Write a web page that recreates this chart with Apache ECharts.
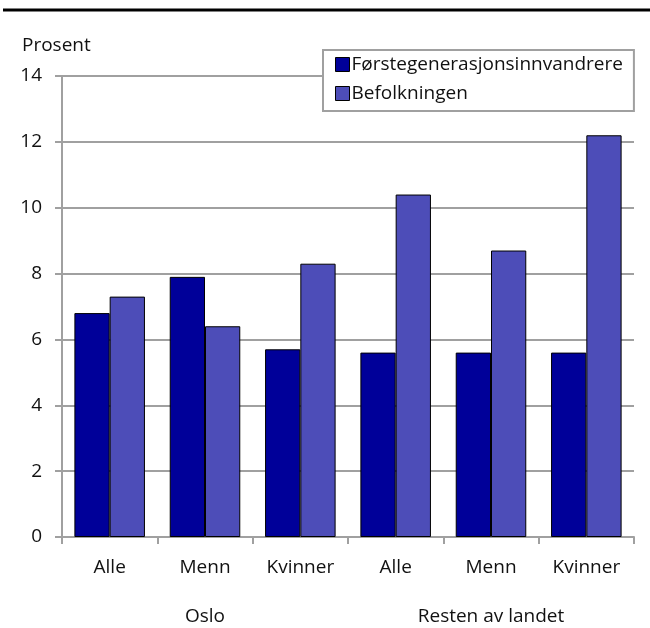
<!DOCTYPE html>
<html>
<head>
<meta charset="utf-8">
<script src="https://cdn.jsdelivr.net/npm/echarts@6/dist/echarts.min.js"></script>
<style>
  html, body { margin: 0; padding: 0; background: #fff; }
  #chart { width: 650px; height: 628px; }
</style>
</head>
<body>
<div id="chart"></div>
<script>
const categories = ['Alle', 'Menn', 'Kvinner', 'Alle', 'Menn', 'Kvinner']
const groups = ['Oslo', 'Resten av landet']
const seriesNames = ['Førstegenerasjonsinnvandrere', 'Befolkningen']
const innvandrere = [6.8, 7.9, 5.7, 5.6, 5.6, 5.6]
const befolkningen = [7.3, 6.4, 8.3, 10.4, 8.7, 12.2]

const font = '"Open Sans", "Noto Sans", sans-serif'
const axisGray = '#a0a0a0'
const fs = 19

const chart = echarts.init(document.getElementById('chart'))
chart.setOption({
  backgroundColor: '#fff',
  animation: false,
  textStyle: { fontFamily: font },
  grid: { left: 62, right: 16, top: 76, bottom: 91, outerBoundsMode: 'none' },
  graphic: [
    { type: 'line', shape: { x1: 3, y1: 10, x2: 650, y2: 10 }, style: { stroke: '#000', lineWidth: 3 } }
  ],
  legend: {
    orient: 'vertical',
    left: 323,
    top: 50,
    padding: [5, 11, 8, 12],
    backgroundColor: '#fff',
    borderColor: axisGray,
    borderWidth: 2,
    itemWidth: 14,
    itemHeight: 14,
    itemGap: 10,
    icon: 'rect',
    itemStyle: { borderColor: '#000', borderWidth: 1 },
    textStyle: { fontSize: fs, color: '#111', fontFamily: font, padding: [0, 0, 0, -3] },
    data: seriesNames
  },
  xAxis: [
    {
      type: 'category',
      data: categories,
      axisLine: { lineStyle: { color: axisGray, width: 2 } },
      axisTick: { show: true, length: 7, lineStyle: { color: axisGray, width: 2 } },
      axisLabel: { color: '#111', fontSize: fs, margin: 21 }
    },
    {
      type: 'category',
      position: 'bottom',
      offset: 62,
      data: groups,
      axisLine: { show: false },
      axisTick: { show: false },
      axisLabel: { color: '#111', fontSize: fs, margin: 8 }
    }
  ],
  yAxis: {
    type: 'value',
    min: 0,
    max: 14,
    interval: 2,
    name: 'Prosent',
    nameLocation: 'end',
    nameGap: 21,
    nameTextStyle: { color: '#111', fontSize: fs, align: 'left', padding: [0, 0, 0, -40] },
    axisLine: { show: true, lineStyle: { color: axisGray, width: 2 } },
    axisTick: { show: true, length: 7, lineStyle: { color: axisGray, width: 2 } },
    axisLabel: { color: '#111', fontSize: fs, margin: 20 },
    splitLine: { lineStyle: { color: axisGray, width: 2 } }
  },
  series: [
    {
      name: seriesNames[0],
      type: 'bar',
      data: innvandrere,
      barGap: '0%',
      barCategoryGap: '26%',
      itemStyle: { color: '#000099', borderColor: '#000', borderWidth: 1 }
    },
    {
      name: seriesNames[1],
      type: 'bar',
      data: befolkningen,
      itemStyle: { color: '#4d4db8', borderColor: '#000', borderWidth: 1 }
    }
  ]
})
</script>
</body>
</html>
